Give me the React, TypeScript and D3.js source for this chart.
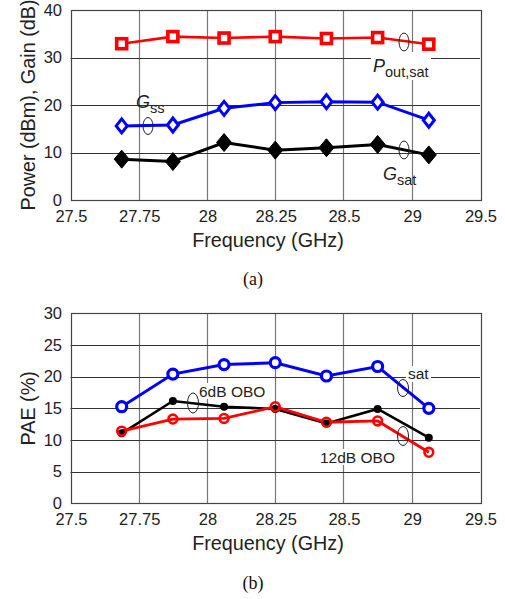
import React from "react";
import * as d3 from "d3";

const freqs = [27.75, 28, 28.25, 28.5, 28.75, 29, 29.25];
const xTickLabels = ["27.5", "27.75", "28", "28.25", "28.5", "29", "29.5"];

const poutSat = [32.9, 34.4, 34.1, 34.4, 34.0, 34.2, 32.8];
const gss = [15.6, 15.8, 19.3, 20.5, 20.7, 20.6, 16.8];
const gsat = [8.6, 8.1, 12.1, 10.5, 11.0, 11.7, 9.5];

const paeSat = [15.25, 20.4, 21.9, 22.2, 20.1, 21.6, 15.0];
const pae6 = [11.05, 16.15, 15.25, 14.9, 12.6, 14.9, 10.36];
const pae12 = [11.4, 13.3, 13.4, 15.25, 12.8, 13.0, 8.05];

const topYTicks = [0, 10, 20, 30, 40];
const botYTicks = [0, 5, 10, 15, 20, 25, 30];

const FONT = "'Liberation Sans', Arial, sans-serif";
const LEFT = 70.5;
const RIGHT = 480;

const x = d3.scaleLinear().domain([27.5, 29.5]).range([LEFT, RIGHT]);
const xTickVals = d3.range(7).map((i) => 27.5 + (i * 2) / 6);

type PanelProps = {
  top: number;
  bottom: number;
  yMax: number;
  yTicks: number[];
  children: (y: d3.ScaleLinear<number, number>) => React.ReactNode;
  yTitle: string;
  caption: string;
  captionY: number;
};

function Panel({ top, bottom, yMax, yTicks, children, yTitle, caption, captionY }: PanelProps) {
  const y = d3.scaleLinear().domain([0, yMax]).range([bottom, top]);
  const snap = (v: number) => Math.round(v) + 0.5;
  return (
    <g>
      {xTickVals.slice(1, -1).map((t, i) => (
        <line key={"vx" + i} x1={snap(x(t))} x2={snap(x(t))} y1={top} y2={bottom} stroke="#777" strokeWidth={1.2} />
      ))}
      {yTicks.slice(1, -1).map((t, i) => (
        <line key={"hy" + i} x1={LEFT} x2={RIGHT} y1={snap(y(t))} y2={snap(y(t))} stroke="#333" strokeWidth={1} />
      ))}
      <rect x={snap(LEFT)} y={snap(top)} width={Math.round(RIGHT - LEFT)} height={Math.round(bottom - top)} fill="none" stroke="#444" strokeWidth={1.2} />
      {yTicks.map((t) => (
        <text key={"yt" + t} x={62} y={y(t) + 5.8} textAnchor="end" fontFamily={FONT} fontSize={16.5} fill="#222">
          {t}
        </text>
      ))}
      {xTickVals.map((t, i) => (
        <text key={"xt" + i} x={x(t) + 1} y={bottom + 22} textAnchor="middle" fontFamily={FONT} fontSize={16.5} fill="#222">
          {xTickLabels[i]}
        </text>
      ))}
      <text x={268} y={bottom + 47} textAnchor="middle" fontFamily={FONT} fontSize={19.8} fill="#222">
        Frequency (GHz)
      </text>
      <text
        transform={`translate(35,${(top + bottom) / 2}) rotate(-90)`}
        textAnchor="middle"
        fontFamily={FONT}
        fontSize={19.8}
        fill="#222"
      >
        {yTitle}
      </text>
      <text x={253} y={captionY} textAnchor="middle" fontFamily="'Liberation Serif', 'Times New Roman', serif" fontSize={18} fill="#111">
        {caption}
      </text>
      {children(y)}
    </g>
  );
}

function series(vals: number[], y: d3.ScaleLinear<number, number>) {
  return d3
    .line<number>()
    .x((_, i) => x(freqs[i]))
    .y((v) => y(v))(vals) as string;
}

const diamond = (cx: number, cy: number, w: number, h: number) =>
  `M${cx},${cy - h / 2}L${cx + w / 2},${cy}L${cx},${cy + h / 2}L${cx - w / 2},${cy}Z`;

export default function App() {
  return (
    <svg width={505} height={599} style={{ position: "absolute", left: 0, top: 0, background: "#fff" }}>
      <rect width={505} height={599} fill="#fff" />
      <Panel top={10} bottom={200} yMax={40} yTicks={topYTicks} yTitle="Power (dBm), Gain (dB)" caption="(a)" captionY={285}>
        {(y) => (
          <g>
            <rect x={371} y={52} width={60} height={28} fill="#fff" />
            <path d={series(gsat, y)} fill="none" stroke="#000" strokeWidth={3} />
            <path d={series(gss, y)} fill="none" stroke="#0000ff" strokeWidth={3} />
            <path d={series(poutSat, y)} fill="none" stroke="#ff0000" strokeWidth={2.6} />
            {poutSat.map((v, i) => (
              <rect key={"ps" + i} x={x(freqs[i]) - 5} y={y(v) - 5} width={10} height={10} fill="#fff" stroke="#ff0000" strokeWidth={3.6} />
            ))}
            {gss.map((v, i) => (
              <path key={"gs" + i} d={diamond(x(freqs[i]), y(v), 11, 14)} fill="#fff" stroke="#0000ff" strokeWidth={3} />
            ))}
            {gsat.map((v, i) => (
              <path key={"gt" + i} d={diamond(x(freqs[i]), y(v), 15, 18)} fill="#000" stroke="#000" strokeWidth={1} />
            ))}
            <ellipse cx={404} cy={42} rx={5} ry={9} fill="none" stroke="#222" strokeWidth={1} />
            <ellipse cx={148} cy={126} rx={5} ry={8.5} fill="none" stroke="#222" strokeWidth={1} />
            <ellipse cx={404} cy={150} rx={5} ry={9} fill="none" stroke="#222" strokeWidth={1} />
            <text fontFamily={FONT} fill="#222">
              <tspan x={136} y={108} fontSize={18} fontStyle="italic">G</tspan>
              <tspan dy={5} fontSize={14.5}>ss</tspan>
            </text>
            <text fontFamily={FONT} fill="#222">
              <tspan x={373} y={72} fontSize={18} fontStyle="italic">P</tspan>
              <tspan dy={5} fontSize={14.5}>out,sat</tspan>
            </text>
            <text fontFamily={FONT} fill="#222">
              <tspan x={383} y={180} fontSize={18} fontStyle="italic">G</tspan>
              <tspan dy={5} fontSize={14.5}>sat</tspan>
            </text>
          </g>
        )}
      </Panel>
      <Panel top={313.3} bottom={503.3} yMax={30} yTicks={botYTicks} yTitle="PAE (%)" caption="(b)" captionY={589}>
        {(y) => (
          <g>
            <rect x={406} y={366} width={25} height={16} fill="#fff" />
            <rect x={198} y={383} width={68} height={16} fill="#fff" />
            <rect x={319} y={449} width={77} height={16} fill="#fff" />
            <path d={series(pae6, y)} fill="none" stroke="#000" strokeWidth={2.6} />
            <path d={series(pae12, y)} fill="none" stroke="#ff0000" strokeWidth={2.8} />
            <path d={series(paeSat, y)} fill="none" stroke="#0000ff" strokeWidth={3} />
            {pae6.map((v, i) => (
              <circle key={"p6" + i} cx={x(freqs[i])} cy={y(v)} r={4} fill="#000" />
            ))}
            {pae12.map((v, i) => (
              <circle key={"p12" + i} cx={x(freqs[i])} cy={y(v)} r={4.4} fill="none" stroke="#ff0000" strokeWidth={2.6} />
            ))}
            {paeSat.map((v, i) => (
              <circle key={"ps" + i} cx={x(freqs[i])} cy={y(v)} r={5} fill="#fff" stroke="#0000ff" strokeWidth={3.2} />
            ))}
            <ellipse cx={193} cy={403} rx={5.5} ry={10} fill="none" stroke="#222" strokeWidth={1} />
            <ellipse cx={403} cy={388} rx={5.5} ry={8.5} fill="none" stroke="#222" strokeWidth={1} />
            <ellipse cx={403} cy={436} rx={5.5} ry={9.5} fill="none" stroke="#222" strokeWidth={1} />
            <text x={199} y={397} fontFamily={FONT} fontSize={15.5} fill="#222">6dB OBO</text>
            <text x={320} y={463} fontFamily={FONT} fontSize={15.5} fill="#222">12dB OBO</text>
            <text x={408} y={379} fontFamily={FONT} fontSize={15.5} fill="#222">sat</text>
          </g>
        )}
      </Panel>
    </svg>
  );
}
